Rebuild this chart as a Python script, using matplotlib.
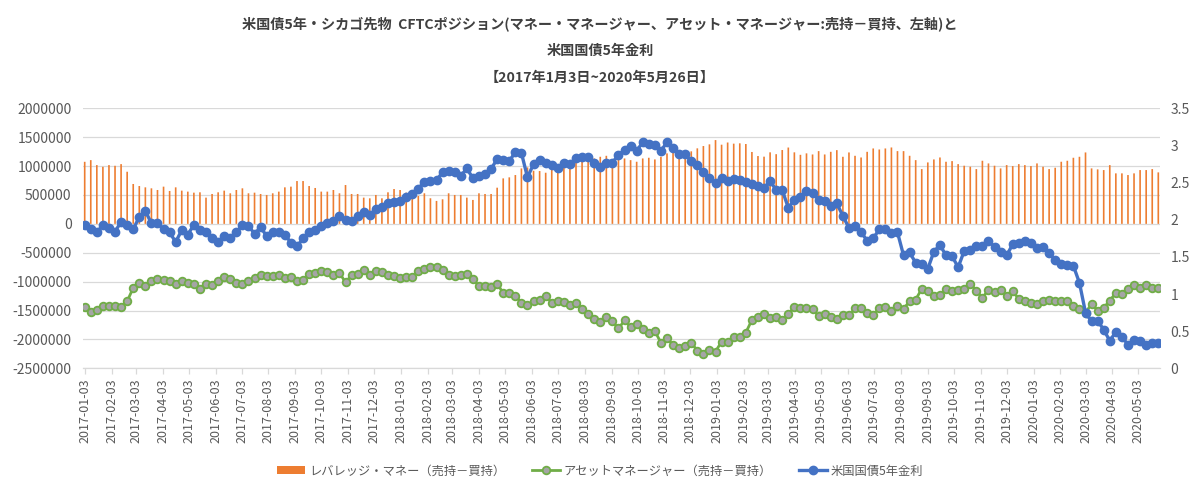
import numpy as np
import pandas as pd
import matplotlib
matplotlib.use('Agg')
import matplotlib.pyplot as plt
import matplotlib.dates as mdates
from matplotlib.ticker import MultipleLocator, FuncFormatter
from matplotlib.lines import Line2D
from matplotlib.patches import Patch

plt.rcParams['font.family'] = ['Noto Sans CJK JP', 'DejaVu Sans']

# ---------------- data ----------------
start_date = '2017-01-03'
n_weeks = 178
dates = pd.date_range(start_date, periods=n_weeks, freq='7D')

# Leveraged money (short - long), thousands of contracts
leveraged_k = [
    1074, 1103, 1017, 988, 1017, 1005, 1034, 902, 690, 655,
    632, 615, 586, 644, 569, 632, 575, 558, 540, 546,
    454, 517, 546, 575, 529, 586, 615, 529, 540, 517,
    500, 529, 558, 632, 644, 741, 741, 655, 621, 558,
    558, 586, 529, 672, 517, 517, 454, 442, 500, 442,
    546, 603,
    586, 540, 558, 483, 529, 443, 397, 425, 529, 500,
    500, 454, 414, 529, 517, 517, 626, 787, 805, 845,
    960, 977, 919, 914, 885, 971, 1006, 1017, 1046, 1103,
    1121, 1103, 1132, 1161, 1178, 1103, 1121, 1132, 1103, 1075,
    1132, 1144, 1115, 1161, 1220, 1235, 1225, 1270, 1255, 1307,
    1347, 1376, 1450, 1370, 1408, 1388, 1394, 1382, 1244, 1174,
    1163, 1238, 1206, 1278, 1321, 1238,
    1195, 1220, 1201, 1259, 1201, 1247, 1276, 1161, 1236, 1178,
    1149, 1247, 1305, 1287, 1305, 1322, 1259, 1259, 1178, 1103,
    948, 1063, 1115, 1149, 1075, 1086, 1034, 1006, 989, 948,
    1092, 1046, 1006, 960, 1017, 1000, 1034, 1017, 1000, 1046,
    989, 948, 971, 1075, 1092, 1144, 1161, 1236, 960, 943,
    931, 1017, 874, 874, 845, 874, 931, 931, 948, 891,
]

# Asset manager (short - long), thousands of contracts
asset_k = [
    -1437, -1529, -1483, -1414, -1425, -1425, -1443, -1339, -1109, -1023,
    -1080, -983, -954, -977, -994, -1040, -983, -1023, -1040, -1121,
    -1034, -1063, -983, -920, -954, -1023, -1034, -983, -937, -891,
    -897, -897, -891, -937, -920, -983, -966, -868, -851, -822,
    -839, -891, -851, -1011, -891, -868, -805, -891, -822, -839,
    -891, -908,
    -937, -920, -920, -822, -782, -747, -747, -793, -879, -908,
    -879, -868, -948, -1080, -1080, -1092, -1040, -1195, -1195, -1241,
    -1368, -1397, -1339, -1322, -1241, -1368, -1339, -1356, -1397, -1368,
    -1471, -1557, -1643, -1701, -1615, -1684, -1810, -1672, -1787, -1730,
    -1828, -1884, -1856, -2057, -1980, -2095, -2147, -2107, -2055, -2196,
    -2251, -2188, -2211, -2038, -2044, -1958, -1960, -1882, -1663, -1618,
    -1560, -1629, -1606, -1658, -1565, -1433,
    -1450, -1462, -1471, -1598, -1552, -1615, -1643, -1586, -1586, -1465,
    -1454, -1540, -1580, -1454, -1437, -1511, -1425, -1471, -1339, -1310,
    -1126, -1167, -1241, -1236, -1126, -1167, -1138, -1126, -1034, -1155,
    -1282, -1138, -1184, -1149, -1241, -1167, -1299, -1328, -1368, -1385,
    -1328, -1322, -1328, -1328, -1339, -1425, -1471, -1540, -1385, -1500,
    -1454, -1328, -1195, -1213, -1126, -1052, -1109, -1063, -1109, -1109,
]

# US 5-year Treasury yield (%), right axis
yield5 = [
    1.93, 1.88, 1.83, 1.93, 1.89, 1.84, 1.97, 1.93, 1.87, 2.04,
    2.12, 1.95, 1.95, 1.87, 1.83, 1.70, 1.86, 1.80, 1.93, 1.86,
    1.83, 1.76, 1.70, 1.78, 1.76, 1.83, 1.93, 1.92, 1.81, 1.90,
    1.78, 1.83, 1.83, 1.80, 1.69, 1.64, 1.75, 1.83, 1.86, 1.92,
    1.96, 1.98, 2.05, 2.00, 1.98, 2.05, 2.11, 2.06, 2.15, 2.17,
    2.23, 2.24,
    2.25, 2.31, 2.35, 2.42, 2.51, 2.52, 2.53, 2.64, 2.66, 2.64,
    2.59, 2.69, 2.56, 2.59, 2.61, 2.68, 2.82, 2.80, 2.79, 2.91,
    2.90, 2.57, 2.75, 2.80, 2.76, 2.74, 2.70, 2.76, 2.75, 2.83,
    2.85, 2.84, 2.77, 2.71, 2.76, 2.77, 2.87, 2.94, 2.99, 2.93,
    3.04, 3.02, 3.01, 2.93, 3.04, 2.97, 2.88, 2.88, 2.79, 2.73,
    2.64, 2.56, 2.50, 2.56, 2.52, 2.55, 2.54, 2.51, 2.48, 2.45,
    2.43, 2.52, 2.40, 2.40, 2.16, 2.27,
    2.30, 2.39, 2.36, 2.27, 2.25, 2.19, 2.22, 2.05, 1.89, 1.92,
    1.83, 1.72, 1.75, 1.87, 1.87, 1.82, 1.83, 1.52, 1.56, 1.42,
    1.40, 1.34, 1.57, 1.66, 1.52, 1.51, 1.36, 1.58, 1.59, 1.65,
    1.65, 1.72, 1.63, 1.56, 1.52, 1.67, 1.69, 1.71, 1.69, 1.62,
    1.63, 1.55, 1.46, 1.40, 1.39, 1.38, 1.15, 0.75, 0.63, 0.64,
    0.52, 0.37, 0.49, 0.42, 0.32, 0.38, 0.37, 0.32, 0.34, 0.34,
]

leveraged = np.array(leveraged_k) * 1000
asset = np.array(asset_k) * 1000

title_lines = [
    "米国債5年・シカゴ先物  CFTCポジション(マネー・マネージャー、アセット・マネージャー:売持－買持、左軸)と",
    "米国国債5年金利",
    "【2017年1月3日~2020年5月26日】",
]
legend_labels = ["レバレッジ・マネー（売持－買持）", "アセットマネージャー（売持－買持）", "米国国債5年金利"]

# ---------------- colours ----------------
C_ORANGE = '#ed7d31'
C_GREEN = '#70ad47'
C_GRAYFILL = '#a5a5a5'
C_BLUE = '#4472c4'
C_GRID = '#d9d9d9'
C_TXT = '#595959'

W, H = 1200, 497
fig = plt.figure(figsize=(W / 100, H / 100), dpi=100)
left, right, top, bottom = 83.4 / W, 1159.6 / W, 1 - 108.3 / H, 1 - 368.3 / H
ax = fig.add_axes([left, bottom, right - left, top - bottom])

bars = ax.bar(dates, leveraged, width=1.9, color=C_ORANGE, linewidth=0, zorder=2)
for b in bars:
    b.set_snap(False)
ax.plot(dates, asset, color=C_GREEN, lw=2.0, marker='o', ms=5.5,
        mfc=C_GRAYFILL, mec=C_GREEN, mew=1.3, zorder=3)

ax.set_ylim(-2500000, 2000000)
ax.yaxis.set_major_locator(MultipleLocator(500000))
ax.yaxis.set_major_formatter(FuncFormatter(lambda v, p: f"{int(round(v))}"))
ax.yaxis.grid(True, color=C_GRID, lw=0.9)
ax.set_axisbelow(True)

ax.set_xlim(dates[0] - pd.Timedelta(days=1.5), dates[-1] + pd.Timedelta(days=1.5))
ax.xaxis.set_major_locator(mdates.MonthLocator(bymonthday=3))
ax.xaxis.set_major_formatter(mdates.DateFormatter('%Y-%m-%d'))

for s in ['top', 'left', 'right']:
    ax.spines[s].set_visible(False)
ax.spines['bottom'].set_color(C_GRID)
ax.spines['bottom'].set_linewidth(0.9)

ax.tick_params(axis='y', length=0, pad=8.5, labelsize=10, labelcolor=C_TXT)
ax.tick_params(axis='x', length=4, width=0.9, color=C_GRID, pad=3,
               labelsize=9, labelcolor=C_TXT, labelrotation=90)

ax2 = ax.twinx()
ax2.plot(dates, yield5, color=C_BLUE, lw=2.4, marker='o', ms=6,
         mfc=C_BLUE, mec=C_BLUE, zorder=4)
ax2.set_ylim(0, 3.5)
ax2.yaxis.set_major_locator(MultipleLocator(0.5))
ax2.yaxis.set_major_formatter(FuncFormatter(lambda v, p: f"{v:g}"))
for s in ax2.spines.values():
    s.set_visible(False)
ax2.tick_params(axis='y', length=0, pad=8, labelsize=10, labelcolor=C_TXT)

# title
for y_px, txt in zip([25, 51, 78], title_lines):
    fig.text(0.5, 1 - y_px / H, txt, ha='center', va='center', fontsize=10.2,
             fontweight='bold', color='#404040')

handles = [
    Patch(facecolor=C_ORANGE, edgecolor='none'),
    Line2D([], [], color=C_GREEN, lw=2.0, marker='o', ms=5.5, mfc=C_GRAYFILL,
           mec=C_GREEN, mew=1.3),
    Line2D([], [], color=C_BLUE, lw=2.4, marker='o', ms=6, mfc=C_BLUE, mec=C_BLUE),
]
leg = fig.legend(handles, legend_labels, loc='center', bbox_to_anchor=(0.5, 1 - 471 / H),
                 ncol=3, frameon=False, fontsize=8.8, handlelength=2.3, handleheight=0.6,
                 columnspacing=2.2, handletextpad=0.3)
for t in leg.get_texts():
    t.set_color(C_TXT)

fig.savefig('out.png', dpi=100)
